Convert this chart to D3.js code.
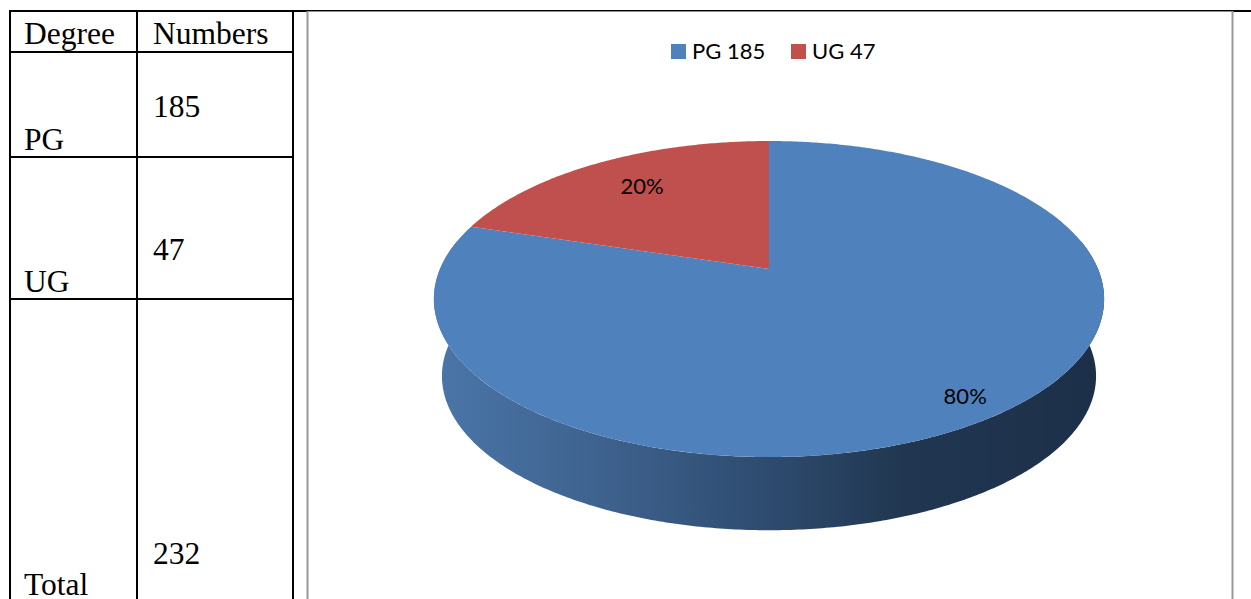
<!DOCTYPE html>
<html>
<head>
<meta charset="utf-8">
<script src="https://cdn.jsdelivr.net/npm/d3@7"></script>
<style>
  html, body { margin: 0; padding: 0; background: #fff; overflow: hidden; }
  svg { display: block; }
  .cell { font-family: "Liberation Serif", serif; font-size: 31.5px; fill: #000; }
  .lab { font-family: Lato, sans-serif; font-size: 22px; fill: #000; }
</style>
</head>
<body>
<div id="chart"></div>
<script>
// Data
var headers = ["Degree", "Numbers"];
var degrees = ["PG", "UG", "Total"];
var numbers = [185, 47, 232];
var sliceNames = ["PG", "UG"];
var sliceValues = [185, 47];
var sliceColors = ["#4f81bd", "#c0504d"];

var width = 1251, height = 599;

var svg = d3.select("#chart").append("svg")
  .attr("width", width)
  .attr("height", height);

// --- table on the left ---
var colX = [10, 137, 293],
    rowY = [11, 52, 157, 299, 640],
    textX = [24, 153];

var table = svg.append("g");

colX.forEach(function(x) {
  table.append("line").attr("x1", x).attr("x2", x).attr("y1", 10).attr("y2", height)
    .attr("stroke", "#000").attr("stroke-width", 2);
});
rowY.slice(1, 4).forEach(function(y) {
  table.append("line").attr("x1", colX[0]).attr("x2", colX[2]).attr("y1", y).attr("y2", y)
    .attr("stroke", "#000").attr("stroke-width", 2);
});

table.selectAll(".head").data(headers).enter().append("text")
  .attr("class", "cell")
  .attr("x", function(d, i) { return textX[i]; })
  .attr("y", 44)
  .text(function(d) { return d; });

// first column sits on the bottom of its row, second one a bit higher
var nameBase = [150, 292, 595],
    numBase = [117, 260, 564];

table.selectAll(".name").data(degrees).enter().append("text")
  .attr("class", "cell")
  .attr("x", textX[0])
  .attr("y", function(d, i) { return nameBase[i]; })
  .text(function(d) { return d; });

table.selectAll(".num").data(numbers).enter().append("text")
  .attr("class", "cell")
  .attr("x", textX[1])
  .attr("y", function(d, i) { return numBase[i]; })
  .text(function(d) { return d; });

// --- chart frame ---
svg.append("line").attr("x1", 10).attr("x2", width).attr("y1", 11).attr("y2", 11)
  .attr("stroke", "#000").attr("stroke-width", 2);
svg.append("line").attr("x1", 307).attr("x2", 1232).attr("y1", 11.5).attr("y2", 11.5)
  .attr("stroke", "#8c8c8c").attr("stroke-width", 1);
[307.5, 1232.5].forEach(function(x) {
  svg.append("line").attr("x1", x).attr("x2", x).attr("y1", 11).attr("y2", height)
    .attr("stroke", "#999").attr("stroke-width", 2);
});

// --- 3D pie ---
// Perspective mapping of the unit disc on the tilted plane. The centre of the
// disc does not land on the centre of the ellipse, as in the office chart.
var cx = 769, apexY = 269,
    ax = 329, by = 152.3, k = 0.19,
    ellipseY = 299, depth = 77, floorScale = 0.976;

function project(angle, r) {
  var u = r * Math.sin(angle),
      v = -r * Math.cos(angle),
      w = 1 - k * v;
  return [cx + ax * u / w, apexY + by * v / w];
}

function projectFloor(angle) {
  var p = project(angle, 1);
  return [cx + (p[0] - cx) * floorScale,
          ellipseY + depth + (p[1] - ellipseY) * floorScale];
}

// angle on the disc where the outline reaches its left and right extremes
var sideAngle = Math.acos(k);

function sample(a0, a1) {
  var n = Math.max(2, Math.ceil(Math.abs(a1 - a0) / 0.01));
  return d3.range(n + 1).map(function(i) { return a0 + (a1 - a0) * i / n; });
}

var line = d3.line();
var color = d3.scaleOrdinal().domain(sliceNames).range(sliceColors);
var total = d3.sum(sliceValues);
var pct = d3.format(".0%");

var pie = d3.pie().sort(null);
var arcs = pie(sliceValues);

var defs = svg.append("defs");
var shade = defs.append("linearGradient")
  .attr("id", "side")
  .attr("gradientUnits", "userSpaceOnUse")
  .attr("x1", cx - 335).attr("x2", cx + 335)
  .attr("y1", 0).attr("y2", 0);
[[0, "#4a76a8"], [0.25, "#3e628e"], [0.5, "#2e4b6f"], [0.7, "#213751"], [1, "#1c2f49"]].forEach(function(s) {
  shade.append("stop").attr("offset", s[0]).attr("stop-color", s[1]);
});

// side wall: front half of the top rim, then back along the floor rim
var rimTop = sample(Math.PI / 2 - (Math.PI / 2 - sideAngle), 2 * Math.PI - sideAngle).map(function(a) {
  return project(a, 1);
});
var rimFloor = sample(2 * Math.PI - sideAngle, sideAngle).map(projectFloor);

svg.append("path")
  .attr("d", line(rimTop.concat(rimFloor)) + "Z")
  .attr("fill", "url(#side)");

// top face
svg.selectAll(".slice").data(arcs).enter().append("path")
  .attr("class", "slice")
  .attr("d", function(d) {
    var pts = sample(d.startAngle, d.endAngle).map(function(a) { return project(a, 1); });
    pts.push(project(0, 0));
    return line(pts) + "Z";
  })
  .attr("fill", function(d, i) { return color(sliceNames[i]); });

// percentage labels
var labelR = [0.87, 0.72],
    labelDy = [12, 4];

svg.selectAll(".pct").data(arcs).enter().append("text")
  .attr("class", "lab pct")
  .attr("text-anchor", "middle")
  .attr("x", function(d, i) { return project((d.startAngle + d.endAngle) / 2, labelR[i])[0]; })
  .attr("y", function(d, i) { return project((d.startAngle + d.endAngle) / 2, labelR[i])[1] + labelDy[i]; })
  .text(function(d) { return pct(d.value / total); });

// --- legend ---
var legendX = [671, 791];

var legend = svg.selectAll(".legend").data(sliceNames).enter().append("g")
  .attr("class", "legend")
  .attr("transform", function(d, i) { return "translate(" + legendX[i] + ",44)"; });

legend.append("rect")
  .attr("width", 15)
  .attr("height", 15)
  .attr("fill", function(d) { return color(d); });

legend.append("text")
  .attr("class", "lab")
  .attr("x", 21)
  .attr("y", 15)
  .text(function(d, i) { return d + " " + sliceValues[i]; });
</script>
</body>
</html>
